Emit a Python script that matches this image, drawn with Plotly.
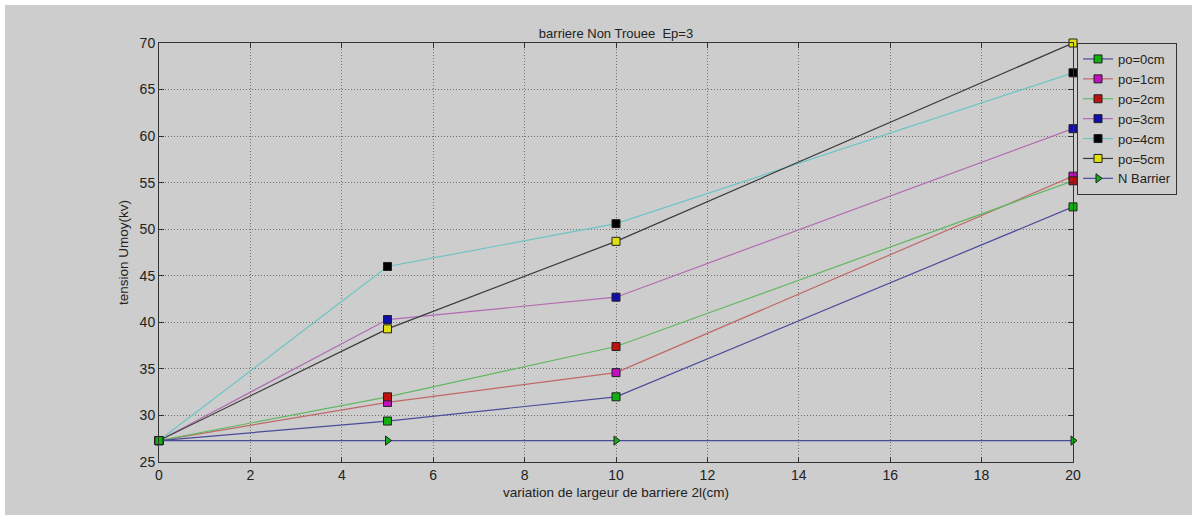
import plotly.graph_objects as go

# Barrier widths 2l (cm)
largeur = [0, 5, 10, 20]

# Mean breakdown voltage (kV) for each electrode position po
u_po0 = [27.3, 29.4, 32.0, 52.4]
u_po1 = [27.3, 31.4, 34.6, 55.7]
u_po2 = [27.3, 32.0, 37.4, 55.2]
u_po3 = [27.3, 40.3, 42.7, 60.8]
u_po4 = [27.3, 46.0, 50.6, 66.8]
u_po5 = [27.3, 39.3, 48.7, 70.0]
u_sans_barriere = [27.3, 27.3, 27.3, 27.3]

series_names = ["po=0cm", "po=1cm", "po=2cm", "po=3cm", "po=4cm", "po=5cm", "N Barrier"]

x_ticks = [0, 2, 4, 6, 8, 10, 12, 14, 16, 18, 20]
y_ticks = [25, 30, 35, 40, 45, 50, 55, 60, 65, 70]

# (values, line colour, marker colour, marker symbol, legend rank)
styles = {
    "po=0cm": (u_po0, "#4b4b9b", "#10b010", "square", 1),
    "po=1cm": (u_po1, "#c06868", "#c010c0", "square", 2),
    "po=2cm": (u_po2, "#62b862", "#c01010", "square", 3),
    "po=3cm": (u_po3, "#b36ab3", "#1010a8", "square", 4),
    "po=4cm": (u_po4, "#6cc4c4", "#000000", "square", 5),
    "po=5cm": (u_po5, "#3a3a3a", "#e0e010", "square", 6),
    "N Barrier": (u_sans_barriere, "#4b4b9b", "#10b010", "triangle-right", 7),
}

# drawing order: po=0cm last so its marker sits on top at the common origin
draw_order = ["po=1cm", "po=2cm", "po=3cm", "po=4cm", "po=5cm", "N Barrier", "po=0cm"]

fig = go.Figure()
for name in draw_order:
    vals, lcol, mcol, sym, rank = styles[name]
    fig.add_trace(go.Scatter(
        x=largeur, y=vals, name=name, mode="lines+markers",
        line=dict(color=lcol, width=1.2),
        marker=dict(symbol=sym, size=8, color=mcol,
                    line=dict(color="#202020", width=1)),
        legendrank=rank, cliponaxis=False,
    ))

BG = "#cdcdcd"
L, R, T, B = 159, 119, 43, 53
PW, PH = 1192 - L - R, 515 - T - B

# thin white strips along the top and left edges of the figure
edge = 5
strips = [
    dict(type="rect", xref="paper", yref="paper", layer="below",
         x0=-L / PW - 0.01, x1=(1192 - L) / PW + 0.01,
         y0=1 + (T - edge) / PH, y1=1 + T / PH + 0.01,
         fillcolor="white", line=dict(width=0)),
    dict(type="rect", xref="paper", yref="paper", layer="below",
         x0=-L / PW - 0.01, x1=-(L - edge) / PW,
         y0=-B / PH - 0.01, y1=1 + T / PH + 0.01,
         fillcolor="white", line=dict(width=0)),
]

fig.update_layout(
    width=1192, height=515,
    margin=dict(l=L, r=R, t=T, b=B, autoexpand=False),
    paper_bgcolor=BG,
    plot_bgcolor=BG,
    font=dict(family="Liberation Sans, Arial, sans-serif", color="#222222", size=13),
    title=dict(text="barriere Non Trouee  Ep=3", x=(616 - L) / PW, xref="paper",
               xanchor="center", y=1 - 33 / 515, yanchor="middle",
               font=dict(size=13, color="#222222")),
    showlegend=True,
    legend=dict(x=1.0044, y=1.0, xanchor="left", yanchor="top",
                bgcolor=BG, bordercolor="#333333", borderwidth=1,
                font=dict(size=13, color="#222222"), tracegroupgap=0),
    shapes=strips,
)

axis_common = dict(
    showline=True, linecolor="#333333", linewidth=1, mirror="ticks",
    ticks="inside", ticklen=5, tickcolor="#333333",
    showgrid=True, gridcolor="#707070", griddash="1px,2px", gridwidth=1,
    zeroline=False, tickfont=dict(size=14, color="#222222"),
)

fig.update_xaxes(range=[0, 20], tickvals=x_ticks,
                 title=dict(text="variation de largeur de barriere 2l(cm)",
                            font=dict(size=13.5), standoff=5),
                 **axis_common)
fig.update_yaxes(range=[25, 70], tickvals=y_ticks,
                 title=dict(text="tension Umoy(kv)", font=dict(size=13.5), standoff=7),
                 **axis_common)

fig.write_html("out.html")
